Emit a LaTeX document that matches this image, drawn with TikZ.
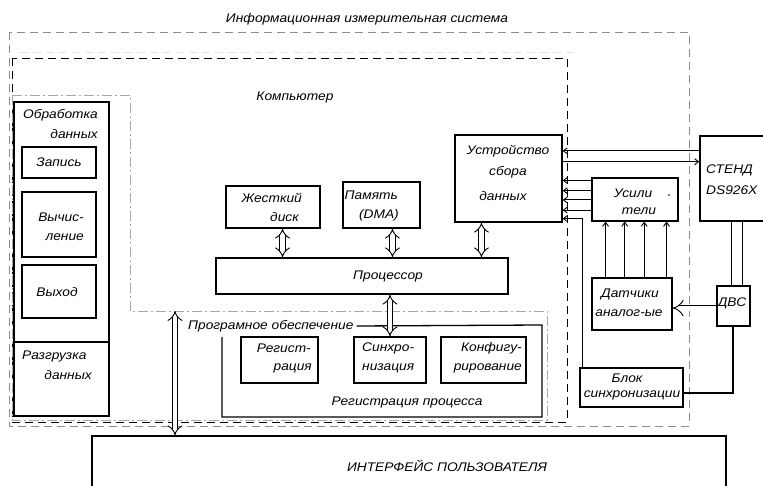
\documentclass[tikz,border=0pt]{standalone}
\usepackage{fontspec}
\setmainfont{Liberation Sans}[FakeStretch=1.1]
\usetikzlibrary{arrows.meta,calc,fit}
\definecolor{outerg}{HTML}{8C8C8C}
\definecolor{swg}{HTML}{A8A8A8}
\begin{document}
\begin{tikzpicture}[x=1pt,y=-1pt,
  box/.style={draw,line width=1.3pt,inner sep=0pt},
  txt/.style={font=\fontsize{12.5}{15}\selectfont\itshape,inner sep=0pt},
  dbl/.style={double,double distance=4.4pt,line width=0.9pt,{Implies}-{Implies}},
  hol/.style={double,double distance=5pt,line width=0.9pt,-{Implies}},
  arr/.style={line width=0.9pt,-{Straight Barb[length=4pt,width=6pt]}},
  ln/.style={line width=1pt}]
\useasboundingbox (0,0) rectangle (763,486);

% frames
\draw[outerg,line width=0.8pt,dash pattern=on 8pt off 5pt] (9,32) rectangle (689,426);
\draw[gray!20,line width=0.6pt,dash pattern=on 8pt off 5pt] (20,52) -- (573,52);
\draw[black,line width=0.8pt,dash pattern=on 8pt off 5pt] (12,58) rectangle (567,422);
\draw[swg,line width=0.6pt,dash pattern=on 10pt off 3pt on 2pt off 3pt] (12,95) -- (130,95) -- (130,311) -- (547,311) -- (547,420) -- (12,420) -- cycle;

\node[txt] (title) at (367,19) {Информационная измерительная система};
\node[txt] (comp) at (295,97) {Компьютер};

% data processing column
\node[box,fit={(14,102) (109,416)}] (obr) {};
\draw[line width=1.3pt] (obr.west |- 0,342) -- (obr.east |- 0,342);
\node[txt,anchor=east] (obr1) at (98,115) {Обработка};
\node[txt,anchor=east] (obr2) at (98,134) {данных};
\node[box,fit={(22,147) (96,178)}] (zap) {};
\node[txt] (zapt) at (zap.center) {Запись};
\node[box,fit={(22,192) (96,257)}] (vych) {};
\node[txt,anchor=east] (vych1) at (84,217) {Вычис-};
\node[txt,anchor=east] (vych2) at (84,237) {ление};
\node[box,fit={(22,265) (96,318)}] (vyh) {};
\node[txt] (vyht) at (57,292) {Выход};
\node[txt,anchor=west] (raz1) at (22,356) {Разгрузка};
\node[txt,anchor=east] (raz2) at (92,375) {данных};

% computer
\node[box,fit={(226,186) (320,228)}] (hdd) {};
\node[txt,anchor=east] (hdd1) at (302,198) {Жесткий};
\node[txt,anchor=east] (hdd2) at (299,217) {диск};
\node[box,fit={(343,182) (420,228)}] (mem) {};
\node[txt,anchor=east] (mem1) at (398,195) {Память};
\node[txt,anchor=east] (mem2) at (399,215) {(DMA)};
\node[box,fit={(216,258) (508,294)}] (cpu) {};
\node[txt] (cput) at (388,276) {Процессор};
\node[box,fit={(455,135) (562,222)}] (daq) {};
\node[txt] (daq1) at (508,151) {Устройство};
\node[txt] (daq2) at (508,172) {сбора};
\node[txt] (daq3) at (503,196) {данных};

% software
\node[txt,anchor=west] (swl) at (188,326) {Програмное обеспечение};
\draw[line width=1.3pt] (swl.east) ++(3,0) -- (542,325) -- (542,417) -- (222,417) -- (222,337);
\node[box,fit={(241,337) (318,383)}] (reg) {};
\node[txt,anchor=east] (reg1) at (311,348) {Регист-};
\node[txt,anchor=east] (reg2) at (312,368) {рация};
\node[box,fit={(354,337) (426,383)}] (syn) {};
\node[txt,anchor=west] (syn1) at (362,348) {Синхро-};
\node[txt,anchor=west] (syn2) at (362,368) {низация};
\node[box,fit={(441,337) (526,383)}] (cfg) {};
\node[txt,anchor=east] (cfg1) at (522,348) {Конфигу-};
\node[txt,anchor=east] (cfg2) at (522,368) {рирование};
\node[txt] (regp) at (407,402) {Регистрация процесса};
\coordinate (swtop) at (175,311);

% external devices
\node[box,fit={(592,178) (678,221)}] (amp) {};
\node[txt] (amp1) at (633,193) {Усили};
\node[txt] (amp2) at (639,211) {тели};
\node[fill,circle,inner sep=0pt,minimum size=1.8pt] (ampdot) at (669,195) {};
\node[box,fit={(700,136) (775,221)}] (stend) {};
\node[txt,anchor=west] (st1) at (706,170) {СТЕНД};
\node[txt,anchor=west] (st2) at (706,190) {DS926X};
\node[box,fit={(592,278) (672,330)}] (sens) {};
\node[txt] (sens1) at (630,294) {Датчики};
\node[txt] (sens2) at (629,313) {аналог-ые};
\node[box,fit={(717,286) (750,326)}] (dvs) {};
\node[txt] (dvst) at (732,303) {ДВС};
\node[box,fit={(580,368) (683,407)}] (blk) {};
\node[txt] (blk1) at (627,378) {Блок};
\node[txt] (blk2) at (632,395) {синхронизации};

% user interface
\node[box,fit={(92,436) (726,500)}] (ui) {};
\node[txt] (uit) at (447,466) {ИНТЕРФЕЙС ПОЛЬЗОВАТЕЛЯ};

% hollow double arrows
\draw[dbl] ($(hdd.south west)!0.6!(hdd.south east)$) coordinate (h1) -- (h1 |- cpu.north);
\draw[dbl] ($(mem.south west)!0.64!(mem.south east)$) coordinate (m1) -- (m1 |- cpu.north);
\draw[dbl] ($(daq.south west)!0.25!(daq.south east)$) coordinate (d1) -- (d1 |- cpu.north);
\draw[dbl] (syn.north |- cpu.south) -- (syn.north);
\draw[dbl] (swtop) -- (swtop |- ui.north);
\draw[hol] ($(dvs.north west)!0.55!(dvs.south west)$) coordinate (v1) -- (v1 -| sens.east);

% signal arrows
\draw[arr] ($(stend.north west)!0.18!(stend.south west)$) coordinate (s1) -- (s1 -| daq.east);
\draw[arr] ($(daq.north east)!0.31!(daq.south east)$) coordinate (s2) -- (s2 -| stend.west);
\foreach \f in {0.07,0.30,0.51,0.74}
  \draw[arr] ($(amp.north west)!\f!(amp.south west)$) coordinate (q) -- (q -| daq.east);
\foreach \f in {0.175,0.41,0.65,0.925}
  \draw[arr] ($(sens.north west)!\f!(sens.north east)$) coordinate (q) -- (q |- amp.south);
\foreach \f in {0.45,0.76}
  \draw[ln] ($(dvs.north west)!\f!(dvs.north east)$) coordinate (q) -- (q |- stend.south);
\draw[arr] ($(blk.north west)!0.03!(blk.north east)$) |- ($(daq.north east)!0.954!(daq.south east)$);
\draw[line width=2.2pt] ($(dvs.south west)!0.48!(dvs.south east)$) |- ($(blk.north east)!0.64!(blk.south east)$);
\end{tikzpicture}
\end{document}
